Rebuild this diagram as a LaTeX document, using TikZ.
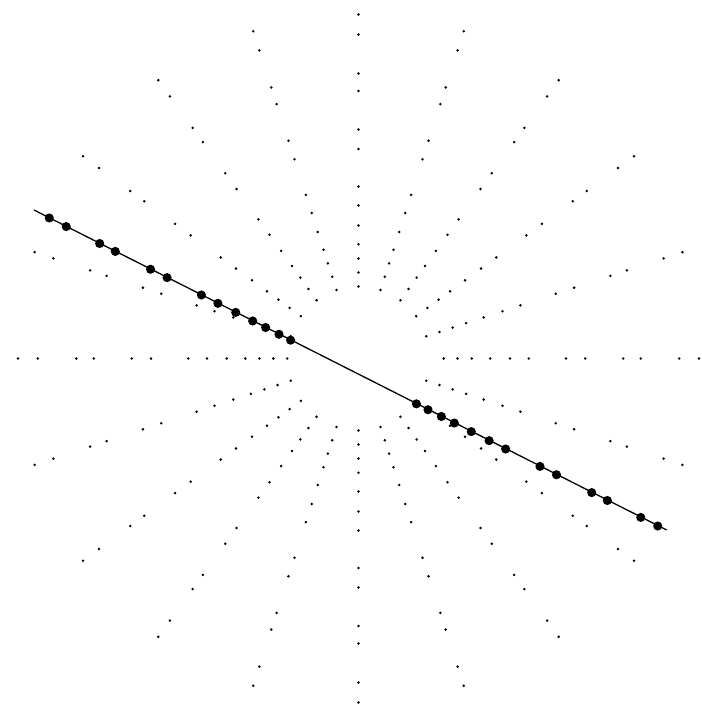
\documentclass[tikz,border=0pt]{standalone}
\tikzset{
  sample/.style={fill=black},
}
\begin{document}
\begin{tikzpicture}[x=0.03cm,y=-0.03cm]
\useasboundingbox (0,0) rectangle (702,726);
\coordinate (o) at (358.5,358.5);
\coordinate (m) at (353.5,372);
\coordinate (lineA) at (34,210);
\coordinate (lineB) at (666.7,530);
% radial samples, every 18 degrees
\begin{scope}[shift={(o)},xscale=0.99]
\foreach \a in {18,36,...,342}
  \foreach \r in {72,86,100,114.3,133,153,172,209.5,229,267.5,285,324,344}
    \fill[sample] (\a:\r) circle (1.2pt);
\foreach \r in {86,100,114.3,133,153,172,209.5,229,267.5,285,324,344}
  \fill[sample] (0:\r) circle (1.2pt);
\end{scope}
% the slice
\draw[line width=1.1pt] (lineA) -- (lineB);
\foreach \r in {70.5,83.5,98.5,113,132,152,170.5,209,227.5,267,284.5,322,341}{
  \fill[sample] (m) ++(26.85:\r) circle (3.9pt);
  \fill[sample] (m) ++(206.85:\r) circle (3.9pt);
}
\end{tikzpicture}
\end{document}
